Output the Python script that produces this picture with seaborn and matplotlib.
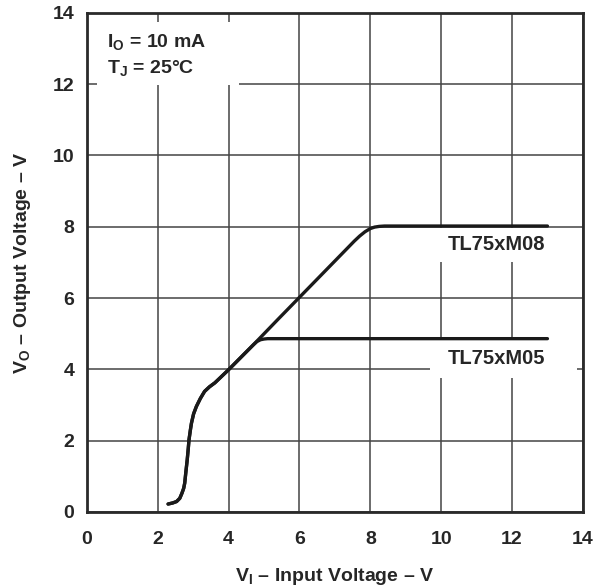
import numpy as np
import pandas as pd
import seaborn as sns
import matplotlib.pyplot as plt
from matplotlib.patches import Rectangle

# shared rising part of the curve
rise_x = [2.29, 2.42, 2.53, 2.62, 2.68, 2.73, 2.76, 2.79, 2.83, 2.86, 2.88, 2.92, 2.95,
          3.01, 3.09, 3.2, 3.32, 3.46, 3.61, 3.8, 4.0, 4.7]
rise_y = [0.22, 0.25, 0.29, 0.38, 0.52, 0.66, 0.81, 1.1, 1.46, 1.78, 2.02, 2.3, 2.49,
          2.75, 2.96, 3.18, 3.38, 3.51, 3.62, 3.8, 3.99, 4.69]

# TL75xM05 knee and flat part
m05_x = [4.8, 4.9, 5.0, 5.1, 13.0]
m05_y = [4.78, 4.83, 4.85, 4.86, 4.86]

# TL75xM08 continues up to the knee at 8 V
m08_x = [5.4, 7.55, 7.7, 7.85, 8.0, 8.12, 8.25, 8.4, 13.0]
m08_y = [5.41, 7.6, 7.74, 7.86, 7.95, 7.99, 8.01, 8.02, 8.02]

devices = ["TL75xM05", "TL75xM08"]

rows = []
for dev, xs, ys in [("TL75xM05", rise_x + m05_x, rise_y + m05_y),
                    ("TL75xM08", rise_x + m08_x, rise_y + m08_y)]:
    for xv, yv in zip(xs, ys):
        rows.append({"vi": xv, "vo": yv, "device": dev})
df = pd.DataFrame(rows)

sns.set_style("white")
plt.rcParams['font.family'] = ['Liberation Sans', 'DejaVu Sans']
plt.rcParams['font.weight'] = 'bold'
plt.rcParams['mathtext.fontset'] = 'custom'
plt.rcParams['mathtext.rm'] = 'Liberation Sans:bold'
plt.rcParams['mathtext.bf'] = 'Liberation Sans:bold'

fig = plt.figure(figsize=(6.04, 5.87), dpi=100)
ax = fig.add_axes([0.144, 0.128, 0.821, 0.850])

sns.lineplot(data=df, x="vi", y="vo", hue="device", palette=["#1a1a1a", "#1a1a1a"],
             sort=False, estimator=None, linewidth=2.4, legend=False, ax=ax, zorder=3)

ax.set_xlim(0, 14)
ax.set_ylim(0, 14)
ax.set_xticks(range(0, 15, 2))
ax.set_yticks(range(0, 15, 2))
ax.grid(True, color="#444444", linewidth=1.1)
ax.set_axisbelow(True)
for s in ax.spines.values():
    s.set_color("#2a2a2a")
    s.set_linewidth(2)
ax.tick_params(axis="x", length=0, pad=14, labelsize=14)
ax.tick_params(axis="y", length=0, pad=9, labelsize=14)
for lab in ax.get_xticklabels() + ax.get_yticklabels():
    lab.set_fontweight("bold")

ax.set_xlabel(r"V$_\mathregular{I}$ – Input Voltage – V", fontsize=14, fontweight="bold", labelpad=13)
ax.set_ylabel(r"V$_\mathregular{O}$ – Output Voltage – V", fontsize=14, fontweight="bold", labelpad=14)

# white boxes hiding the grid behind the annotations
for (bx, by, bw, bh) in [(0.28, 11.97, 4.0, 1.78), (9.69, 7.0, 4.15, 0.97), (9.69, 3.76, 4.15, 1.07)]:
    ax.add_patch(Rectangle((bx, by), bw, bh, facecolor="white", edgecolor="none", zorder=1))

ax.text(0.56, 13.02, r"I$_\mathregular{O}$ = 10 mA", fontsize=14, fontweight="bold", va="baseline", zorder=4)
ax.text(0.56, 12.29, r"T$_\mathregular{J}$ = 25°C", fontsize=14, fontweight="bold", va="baseline", zorder=4)
ax.text(11.55, 7.49, devices[1], fontsize=14.5, fontweight="bold", ha="center", va="center", zorder=4)
ax.text(11.55, 4.30, devices[0], fontsize=14.5, fontweight="bold", ha="center", va="center", zorder=4)

fig.savefig("out.png", dpi=100)
